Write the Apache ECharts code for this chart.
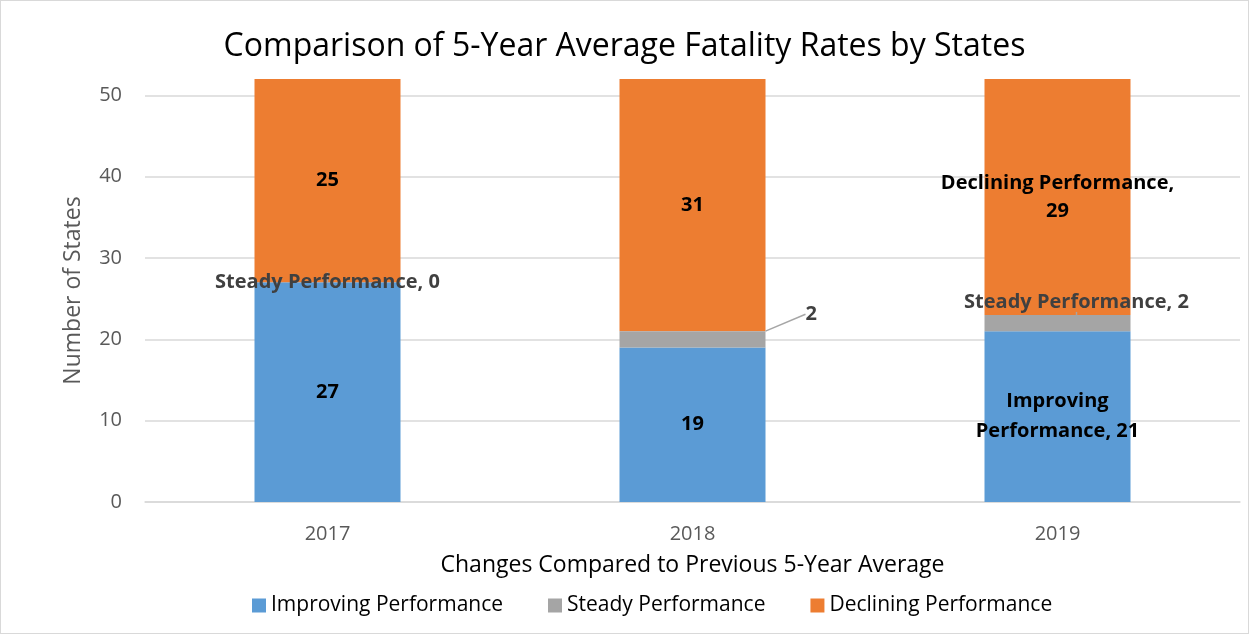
<!DOCTYPE html>
<html><head><meta charset="utf-8">
<script src="https://cdn.jsdelivr.net/npm/echarts@6/dist/echarts.min.js"></script>
<style>html,body{margin:0;padding:0;background:#fff}#c{width:1249px;height:634px;box-sizing:border-box;border:1px solid #d9d9d9}</style>
</head><body><div id="c"></div>
<script>
const categories = ['2017', '2018', '2019'];
const improving = [27, 19, 21];
const steady = [0, 2, 2];
const declining = [25, 31, 29];
const seriesNames = ['Improving Performance', 'Steady Performance', 'Declining Performance'];
const yTicks = [0, 10, 20, 30, 40, 50];

const FONT = '"Open Sans", sans-serif';
const chart = echarts.init(document.getElementById('c'));
const lblBase = {fontFamily: FONT, fontWeight: 'bold', fontSize: 20, color: '#000'};

chart.setOption({
  animation: false,
  title: {text: 'Comparison of 5-Year Average Fatality Rates by States', left: 'center', top: 25,
    textStyle: {fontFamily: FONT, fontWeight: 'normal', fontSize: 32, color: '#000'}},
  grid: {left: 144, right: 8, top: 78, bottom: 131},
  legend: {bottom: 12, left: 246, itemWidth: 14, itemHeight: 14, itemGap: 45, icon: 'rect',
    textStyle: {fontFamily: FONT, fontSize: 21, color: '#000'}, data: seriesNames},
  xAxis: {type: 'category', data: categories,
    name: 'Changes Compared to Previous 5-Year Average', nameLocation: 'middle', nameGap: 52,
    nameTextStyle: {fontFamily: FONT, fontSize: 23, color: '#000'},
    axisLine: {lineStyle: {color: '#d9d9d9', width: 1.5}}, axisTick: {show: false},
    axisLabel: {fontFamily: FONT, fontSize: 20, color: '#595959', margin: 22}},
  yAxis: {type: 'value', min: 0, max: 52, interval: 10,
    name: 'Number of States', nameLocation: 'middle', nameGap: 60,
    nameTextStyle: {fontFamily: FONT, fontSize: 23, color: '#595959'},
    axisLine: {show: false}, axisTick: {show: false},
    axisLabel: {fontFamily: FONT, fontSize: 20, color: '#595959', margin: 23, showMaxLabel: false,
      formatter: v => yTicks.includes(v) ? String(v) : ''},
    splitLine: {showMaxLine: false, lineStyle: {color: '#d9d9d9', width: 1.5}}},
  series: [
    {name: seriesNames[0], type: 'bar', stack: 's', barWidth: '40%', itemStyle: {color: '#5B9BD5'},
      data: improving.map((v, i) => ({value: v, label: i === 2 ? {formatter: 'Improving\nPerformance, {c}'} : {}})),
      label: Object.assign({show: true, position: 'inside', lineHeight: 30}, lblBase)},
    {name: seriesNames[1], type: 'bar', stack: 's', barWidth: '40%', z: 5, itemStyle: {color: '#A5A5A5'},
      data: steady.map((v, i) => ({value: v,
        label: i === 0 ? {formatter: 'Steady Performance, {c}', position: 'inside'}
             : i === 1 ? {formatter: '{c}', position: 'right', distance: 40}
             : {formatter: 'Steady Performance, {c}', position: 'top', distance: 3}})),
      label: Object.assign({}, lblBase, {show: true, color: '#404040', fontWeight: 'bold', fontSize: 20}),
      labelLine: {show: true, lineStyle: {color: '#a6a6a6', width: 1.5}},
      labelLayout: p => p.dataIndex === 1 ? {dy: -25} : (p.dataIndex === 2 ? {dx: 19} : {})},
    {name: seriesNames[2], type: 'bar', stack: 's', barWidth: '40%', itemStyle: {color: '#ED7D31'},
      data: declining.map((v, i) => ({value: v, label: i === 2 ? {formatter: 'Declining Performance,\n{c}'} : {}})),
      label: Object.assign({show: true, position: 'inside', lineHeight: 28}, lblBase)}
  ]
});
</script></body></html>
